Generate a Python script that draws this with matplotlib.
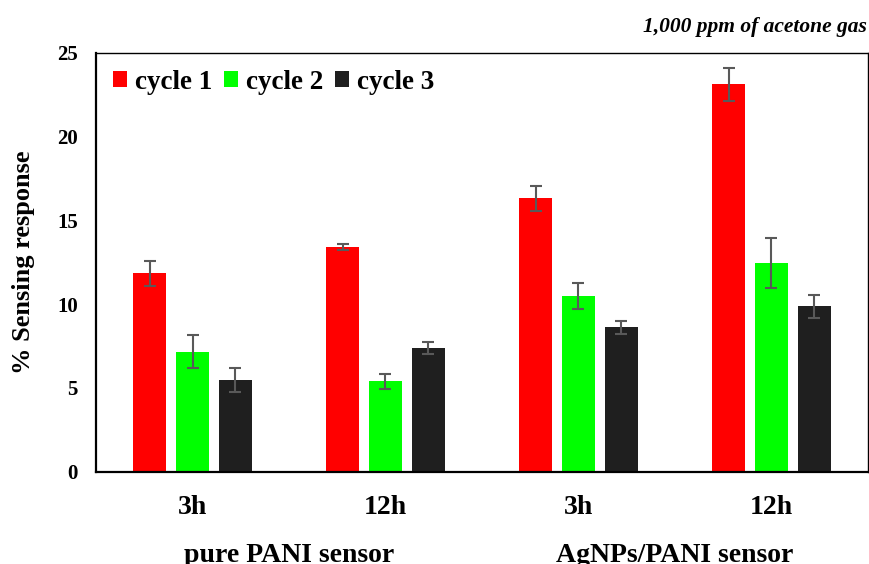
import numpy as np
import matplotlib
matplotlib.use("Agg")
import matplotlib.pyplot as plt

plt.rcParams['font.family'] = ['Liberation Serif', 'DejaVu Serif']
plt.rcParams['font.weight'] = 'bold'

categories = ['3h', '12h', '3h', '12h']
groups = ['pure PANI sensor', 'AgNPs/PANI sensor']
series = ['cycle 1', 'cycle 2', 'cycle 3']
cycle1 = [11.84, 13.41, 16.31, 23.11]
cycle2 = [7.16, 5.41, 10.48, 12.45]
cycle3 = [5.47, 7.38, 8.63, 9.87]
err1 = [0.76, 0.17, 0.75, 1.0]
err2 = [0.98, 0.45, 0.76, 1.5]
err3 = [0.69, 0.34, 0.39, 0.68]
colors = ['#ff0000', '#00ff00', '#1f1f1f']

fig = plt.figure(figsize=(8.69, 5.64), dpi=100)
ax = fig.add_axes([0.1105, 0.1636, 0.8883, 0.743])

x = np.arange(len(categories))
w = 0.171
step = 0.222
vals = [cycle1, cycle2, cycle3]
errs = [err1, err2, err3]
for i in range(3):
    ax.bar(x + (i - 1) * step, vals[i], w, color=colors[i], label=series[i],
           yerr=errs[i], ecolor='#595959',
           error_kw=dict(elinewidth=1.5, capsize=4, capthick=1.5))

ax.set_xlim(-0.5, 3.5)
ax.set_ylim(0, 25)
ax.set_yticks([0, 5, 10, 15, 20, 25])
ax.set_xticks(x)
ax.set_xticklabels(categories, fontsize=20, fontweight='bold')
ax.tick_params(axis='x', length=0, pad=17)
ax.tick_params(axis='y', length=0, pad=13, labelsize=15)
for s in ax.spines.values():
    s.set_linewidth(1.0)
ax.spines['left'].set_linewidth(1.6)
ax.spines['bottom'].set_linewidth(1.6)

ax.set_ylabel('% Sensing response', fontsize=19, fontweight='bold', labelpad=16)

leg = ax.legend(loc='upper left', ncol=3, frameon=False, fontsize=19.5,
                handlelength=0.52, handleheight=0.52, handletextpad=0.28,
                columnspacing=0.45, borderpad=0, borderaxespad=0.63)

# group labels sit at the very bottom edge, as in the reference
for j, g in enumerate(groups):
    xc = ax.transData.transform((2 * j + 0.5, 0))[0]
    xf = fig.transFigure.inverted().transform((xc, 0))[0]
    fig.text(xf, 1 - 562 / 564, g, ha='center', va='baseline', fontsize=20,
             fontweight='bold')

fig.text(0.997, 1 - 27 / 564, '1,000 ppm of acetone gas', ha='right', va='center',
         fontsize=15.5, fontweight='bold', fontstyle='italic')

fig.savefig('out.png', dpi=100)
